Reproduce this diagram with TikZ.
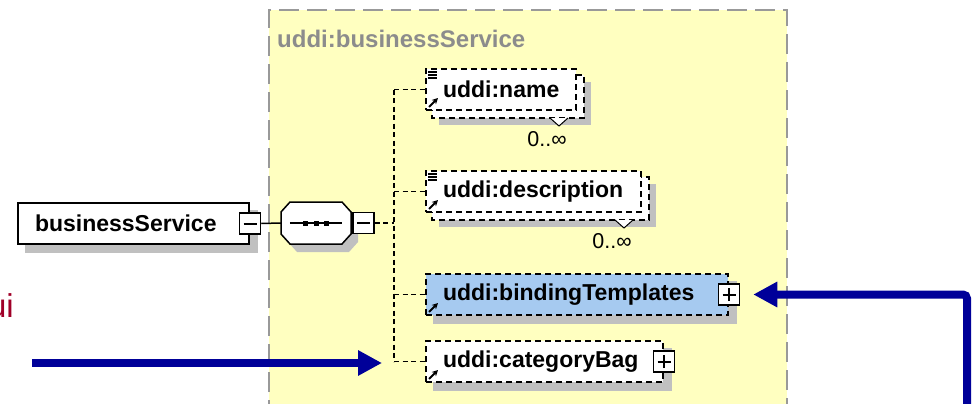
\documentclass[tikz,border=0pt]{standalone}
\usepackage{fontspec}
\setmainfont{Liberation Sans}
\usetikzlibrary{arrows.meta, calc, backgrounds}

\definecolor{zoneyellow}{HTML}{FFFFC0}
\definecolor{bindblue}{HTML}{A6CAF0}
\definecolor{pointerblue}{HTML}{000099}
\definecolor{uired}{HTML}{A00028}
\definecolor{shadowgray}{HTML}{C0C0C0}

\tikzset{
  elem/.style={draw, fill=white, line width=2pt, dash pattern=on 6pt off 4pt,
    anchor=north west, minimum height=41pt, inner xsep=17pt, inner ysep=0pt,
    align=left, font=\fontsize{23}{26}\selectfont\bfseries},
  elemback/.style={draw, fill=white, line width=2pt, dash pattern=on 6pt off 4pt},
  bsbox/.style={elem, solid},
  minusbox/.style={draw, fill=white, line width=1.5pt, minimum size=21pt, inner sep=0pt,
    path picture={\draw[line width=2pt] ([xshift=4pt]path picture bounding box.west)
      -- ([xshift=-4pt]path picture bounding box.east);}},
  plusbox/.style={minusbox,
    path picture={\draw[line width=2pt] ([xshift=4pt]path picture bounding box.west)
      -- ([xshift=-4pt]path picture bounding box.east)
      ([yshift=4pt]path picture bounding box.south)
      -- ([yshift=-4pt]path picture bounding box.north);}},
  seqframe/.style={draw, fill=white, line width=1.5pt},
  conn/.style={line width=1.5pt, dash pattern=on 5pt off 3.5pt},
  refarrow/.style={line width=2pt, -{Stealth[length=6pt, width=6pt]}},
  pointer/.style={draw=pointerblue, line width=8pt, -{Triangle[length=24pt, width=24pt]}},
  mult/.style={inner sep=0pt, font=\fontsize{21.5}{24}\selectfont},
  zonetitle/.style={anchor=west, inner sep=0pt, text=black!45, font=\fontsize{24}{27}\selectfont\bfseries},
  zoneline/.style={draw=black!40, line width=2.5pt, dash pattern=on 20pt off 8pt},
  uitext/.style={anchor=east, inner sep=0pt, text=uired, font=\fontsize{33}{36}\selectfont}
}

\begin{document}
\begin{tikzpicture}[x=1pt, y=-1pt]
  \useasboundingbox (0,0) rectangle (974,404);

  \node[zonetitle] (zoneTitle) at (277,39) {uddi:businessService};
  \node[uitext] (ui) at (14,306) {ui};

  \node[bsbox, text width=197pt] (bs) at (17,202) {businessService};
  \node[minusbox] (bsToggle) at (bs.east) {};

  \node[minimum width=70pt, minimum height=42pt] (seq) at (316,223) {};
  \draw[seqframe] (290,202) -- (342,202) -- (351,212) -- (351,234) -- (342,244)
    -- (290,244) -- (281,234) -- (281,212) -- cycle;
  \draw[line width=1.5pt] ([xshift=9pt]seq.west) -- ([xshift=-9pt]seq.east);
  \foreach \dx in {-10.5,0,10.5}
    \fill ([xshift=\dx pt]seq.center) +(-2.5,-2.5) rectangle +(2.5,2.5);
  \node[minusbox, anchor=west] (seqToggle) at ([xshift=1pt]seq.east) {};

  \node[elem, text width=116pt] (name) at (425,68) {uddi:name};
  \node[elem, text width=181pt] (desc) at (425,170) {uddi:description};
  \node[elem, text width=268pt, fill=bindblue] (bind) at (425,273) {uddi:bindingTemplates};
  \node[elem, text width=203pt] (bag) at (425,340) {uddi:categoryBag};
  \node[plusbox] (bindToggle) at (bind.east) {};
  \node[plusbox] (bagToggle) at (bag.east) {};

  \foreach \n in {name,desc}
    \foreach \k in {0,3,6}
      \draw[line width=1.2pt] ([shift={(3,4+\k)}]\n.north west) -- ++(9,0);
  \foreach \n in {name,desc,bind,bag}
    \draw[refarrow] ([shift={(4,-4)}]\n.south west) -- ++(9,-9);
  \foreach \n/\m in {name/nameMult, desc/descMult} {
    \draw[line width=1pt, fill=white] ([shift={(-27,7)}]\n.south east) -- ++(9,8) -- ++(9,-8);
    \node[mult] (\m) at ([shift={(-30,28)}]\n.south east) {0..∞};
  }

  \coordinate (spine) at (394,223);
  \draw[line width=1.5pt] (bsToggle.east) -- (seq.west);
  \draw[conn] (seqToggle.east) -- (spine);
  \draw[conn] (spine |- name.west) -- (spine |- bag.west);
  \foreach \n in {name,desc,bind,bag}
    \draw[conn] (spine |- \n.west) -- (\n.west);

  \begin{scope}[on background layer]
    \fill[zoneyellow] (269,10) rectangle (787,420);
    \draw[zoneline] (269,420) -- (269,10) -- (787,10) -- (787,420);
    \fill[shadowgray] ([shift={(8,8)}]bs.north west) rectangle ([shift={(8,8)}]bs.south east);
    \begin{scope}[shift={(7,8)}]
      \fill[shadowgray] (290,202) -- (342,202) -- (351,212) -- (351,234) -- (342,244)
        -- (290,244) -- (281,234) -- (281,212) -- cycle;
    \end{scope}
    \foreach \n in {name,desc} {
      \fill[shadowgray] ([shift={(14,14)}]\n.north west) rectangle ([shift={(14,14)}]\n.south east);
      \draw[elemback] ([shift={(7,7)}]\n.north west) rectangle ([shift={(7,7)}]\n.south east);
    }
    \foreach \n in {bind,bag}
      \fill[shadowgray] ([shift={(8,8)}]\n.north west) rectangle ([shift={(8,8)}]\n.south east);
  \end{scope}

  \coordinate (srcL) at (32,363);
  \coordinate (srcR) at (967,410);
  \draw[pointer] (srcL) -- ([xshift=-12pt]spine |- srcL);
  \draw[pointer, rounded corners=4pt] (srcR) |- ([xshift=13pt]bindToggle.east);
\end{tikzpicture}
\end{document}
